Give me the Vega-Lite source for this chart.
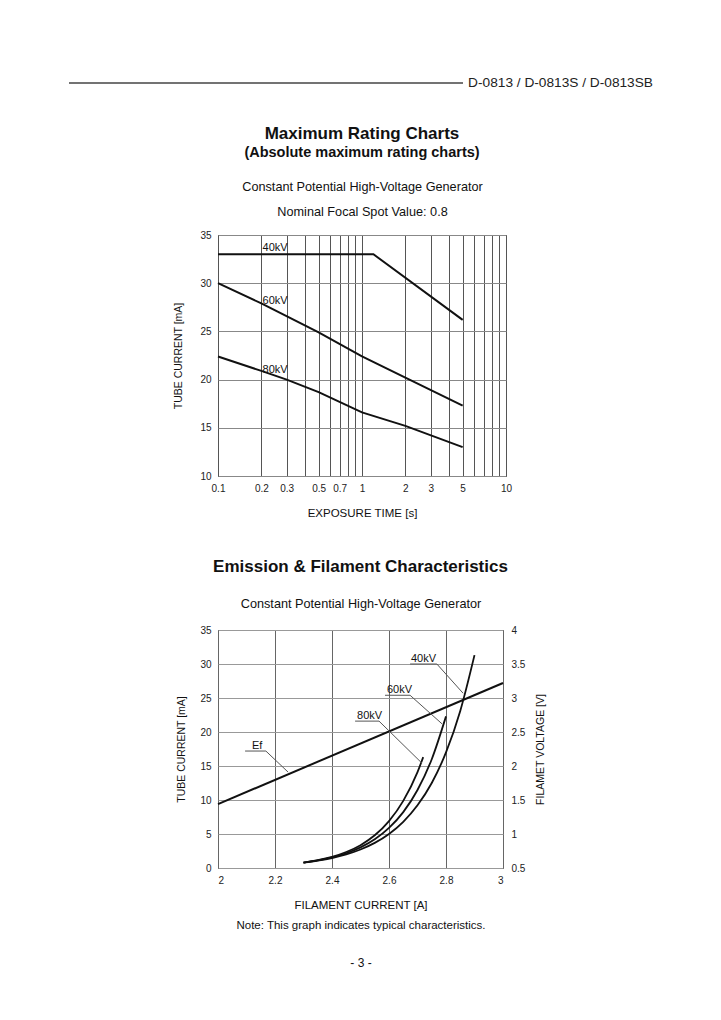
{
  "$schema": "https://vega.github.io/schema/vega-lite/v6.json",
  "background": "white",
  "padding": {"left": 68, "top": 76, "right": 10, "bottom": 10},
  "bounds": "flush",
  "spacing": 154,
  "config": {
    "font": "Liberation Sans",
    "view": {"stroke": "#111", "strokeWidth": 1},
    "axis": {"labelColor": "#222", "titleColor": "#111", "labelFontSize": 10, "titleFontWeight": "normal", "ticks": false, "domain": false, "gridOpacity": 1}
  },
  "vconcat": [
    {
      "width": 435,
      "height": 1,
      "view": {"stroke": null},
      "layer": [
        {
          "data": {"values": [{"x": 68, "x2": 462}]},
          "mark": {"type": "rule", "color": "#444", "strokeWidth": 1.3},
          "encoding": {
            "x": {"field": "x", "type": "quantitative", "scale": {"domain": [217, 652], "zero": false, "nice": false}, "axis": null},
            "x2": {"field": "x2"},
            "y": {"value": 3}
          }
        },
        {
          "data": {"values": [{"x": 652, "t": "D-0813 / D-0813S / D-0813SB"}]},
          "mark": {"type": "text", "align": "right", "baseline": "middle", "fontSize": 13.7, "color": "#222"},
          "encoding": {
            "x": {"field": "x", "type": "quantitative", "axis": null},
            "y": {"value": 3},
            "text": {"field": "t"}
          }
        }
      ]
    },
    {
      "width": 288,
      "height": 241,
      "title": {"text": "Maximum Rating Charts", "subtitle": "(Absolute maximum rating charts)", "fontSize": 17, "fontWeight": "bold", "subtitleFontSize": 14.5, "subtitleFontWeight": "bold", "subtitlePadding": 3, "offset": 20, "anchor": "middle", "color": "#111", "subtitleColor": "#111"},
      "resolve": {"axis": {"x": "independent"}},
      "layer": [
        {
          "data": {"values": [
            {"kv": "40kV", "t": 0.1, "ma": 33.0},
            {"kv": "40kV", "t": 1.2, "ma": 33.0},
            {"kv": "40kV", "t": 5, "ma": 26.2},
            {"kv": "60kV", "t": 0.1, "ma": 30.0},
            {"kv": "60kV", "t": 0.2, "ma": 27.9},
            {"kv": "60kV", "t": 0.5, "ma": 24.9},
            {"kv": "60kV", "t": 1, "ma": 22.4},
            {"kv": "60kV", "t": 2, "ma": 20.2},
            {"kv": "60kV", "t": 5, "ma": 17.3},
            {"kv": "80kV", "t": 0.1, "ma": 22.4},
            {"kv": "80kV", "t": 0.2, "ma": 20.9},
            {"kv": "80kV", "t": 0.3, "ma": 20.0},
            {"kv": "80kV", "t": 0.5, "ma": 18.7},
            {"kv": "80kV", "t": 1, "ma": 16.6},
            {"kv": "80kV", "t": 2, "ma": 15.2},
            {"kv": "80kV", "t": 5, "ma": 13.0}
          ]},
          "mark": {"type": "line", "color": "#111", "strokeWidth": 2},
          "encoding": {
            "x": {"field": "t", "type": "quantitative", "scale": {"type": "log", "domain": [0.1, 10], "nice": false},
              "axis": {"orient": "bottom", "values": [0.1, 0.2, 0.3, 0.4, 0.5, 0.6, 0.7, 0.8, 0.9, 1, 2, 3, 4, 5, 6, 7, 8, 9, 10],
                "labelExpr": "indexof([0.1, 0.2, 0.3, 0.5, 0.7, 1, 2, 3, 5, 10], datum.value) >= 0 ? format(datum.value, '~g') : ''",
                "labelOverlap": false, "labelFlush": false, "grid": true, "gridColor": "#555", "labelPadding": 7,
                "title": "EXPOSURE TIME  [s]", "titleFontSize": 11.5, "titlePadding": 14}},
            "y": {"field": "ma", "type": "quantitative", "scale": {"domain": [10, 35], "nice": false, "zero": false},
              "axis": {"values": [10, 15, 20, 25, 30, 35], "grid": true, "gridColor": "#888", "labelPadding": 7,
                "title": "TUBE CURRENT  [mA]", "titleFontSize": 10.5, "titlePadding": 16}},
            "detail": {"field": "kv"}
          }
        },
        {
          "data": {"values": [
            {"kv": "40kV", "t": 0.204, "ma": 33.3},
            {"kv": "60kV", "t": 0.204, "ma": 27.85},
            {"kv": "80kV", "t": 0.204, "ma": 20.7}
          ]},
          "mark": {"type": "text", "align": "left", "baseline": "alphabetic", "fontSize": 11, "color": "#111"},
          "encoding": {
            "x": {"field": "t", "type": "quantitative",
              "axis": {"orient": "top", "labels": false, "grid": false,
                "title": ["Constant Potential High-Voltage Generator", "Nominal Focal Spot Value: 0.8"],
                "titleFontSize": 12.7, "titleLineHeight": 25, "titlePadding": 17}},
            "y": {"field": "ma", "type": "quantitative"},
            "text": {"field": "kv"}
          }
        }
      ]
    },
    {
      "width": 285,
      "height": 238,
      "title": {"text": "Emission & Filament Characteristics", "fontSize": 17, "fontWeight": "bold", "offset": 21, "anchor": "middle", "color": "#111"},
      "resolve": {"scale": {"y": "independent"}, "axis": {"x": "independent", "y": "independent"}},
      "layer": [
        {
          "data": {"values": [
            {"kv": "40kV", "a": 2.30, "ma": 0.8},
            {"kv": "40kV", "a": 2.35, "ma": 1.09},
            {"kv": "40kV", "a": 2.40, "ma": 1.47},
            {"kv": "40kV", "a": 2.45, "ma": 2.0},
            {"kv": "40kV", "a": 2.50, "ma": 2.72},
            {"kv": "40kV", "a": 2.55, "ma": 3.69},
            {"kv": "40kV", "a": 2.60, "ma": 5.0},
            {"kv": "40kV", "a": 2.65, "ma": 6.79},
            {"kv": "40kV", "a": 2.70, "ma": 9.22},
            {"kv": "40kV", "a": 2.75, "ma": 12.5},
            {"kv": "40kV", "a": 2.80, "ma": 17.0},
            {"kv": "40kV", "a": 2.85, "ma": 23.1},
            {"kv": "40kV", "a": 2.90, "ma": 31.3},
            {"kv": "60kV", "a": 2.30, "ma": 0.8},
            {"kv": "60kV", "a": 2.35, "ma": 1.12},
            {"kv": "60kV", "a": 2.40, "ma": 1.56},
            {"kv": "60kV", "a": 2.45, "ma": 2.17},
            {"kv": "60kV", "a": 2.50, "ma": 3.03},
            {"kv": "60kV", "a": 2.55, "ma": 4.22},
            {"kv": "60kV", "a": 2.60, "ma": 5.89},
            {"kv": "60kV", "a": 2.65, "ma": 8.22},
            {"kv": "60kV", "a": 2.70, "ma": 11.47},
            {"kv": "60kV", "a": 2.75, "ma": 16.0},
            {"kv": "60kV", "a": 2.80, "ma": 22.3},
            {"kv": "80kV", "a": 2.30, "ma": 0.8},
            {"kv": "80kV", "a": 2.35, "ma": 1.15},
            {"kv": "80kV", "a": 2.40, "ma": 1.64},
            {"kv": "80kV", "a": 2.45, "ma": 2.35},
            {"kv": "80kV", "a": 2.50, "ma": 3.36},
            {"kv": "80kV", "a": 2.55, "ma": 4.81},
            {"kv": "80kV", "a": 2.60, "ma": 6.9},
            {"kv": "80kV", "a": 2.65, "ma": 9.87},
            {"kv": "80kV", "a": 2.70, "ma": 14.1},
            {"kv": "80kV", "a": 2.72, "ma": 16.3}
          ]},
          "mark": {"type": "line", "color": "#111", "strokeWidth": 1.8, "interpolate": "monotone"},
          "encoding": {
            "x": {"field": "a", "type": "quantitative", "scale": {"domain": [2, 3], "zero": false, "nice": false},
              "axis": {"orient": "bottom", "values": [2, 2.2, 2.4, 2.6, 2.8, 3], "format": "~g", "grid": true, "gridColor": "#666", "labelPadding": 7,
                "title": ["FILAMENT CURRENT  [A]", "Note: This graph indicates typical characteristics."],
                "titleFontSize": 11.5, "titleLineHeight": 20.5, "titlePadding": 14}},
            "y": {"field": "ma", "type": "quantitative", "scale": {"domain": [0, 35], "nice": false},
              "axis": {"orient": "left", "values": [0, 5, 10, 15, 20, 25, 30, 35], "grid": true, "gridColor": "#999", "labelPadding": 7,
                "title": "TUBE CURRENT  [mA]", "titleFontSize": 10.5, "titlePadding": 13}},
            "detail": {"field": "kv"}
          }
        },
        {
          "data": {"values": [
            {"a": 2, "v": 1.44},
            {"a": 3, "v": 3.22}
          ]},
          "mark": {"type": "line", "color": "#111", "strokeWidth": 2},
          "encoding": {
            "x": {"field": "a", "type": "quantitative",
              "axis": {"orient": "top", "labels": false, "grid": false,
                "title": "Constant Potential High-Voltage Generator", "titleFontSize": 12.7, "titlePadding": 20}},
            "y": {"field": "v", "type": "quantitative", "scale": {"domain": [0.5, 4], "zero": false, "nice": false},
              "axis": {"orient": "right", "values": [0.5, 1, 1.5, 2, 2.5, 3, 3.5, 4], "format": "~g", "grid": false, "labelPadding": 8,
                "title": "FILAMET VOLTAGE  [V]", "titleFontSize": 10.5, "titleAngle": 270, "titleBaseline": "top", "titlePadding": 11}}
          }
        },
        {
          "data": {"values": [
            {"id": "40kV", "a": 2.674, "ma": 30.0},
            {"id": "40kV", "a": 2.768, "ma": 30.0},
            {"id": "40kV", "a": 2.860, "ma": 25.7},
            {"id": "60kV", "a": 2.586, "ma": 25.4},
            {"id": "60kV", "a": 2.674, "ma": 25.4},
            {"id": "60kV", "a": 2.786, "ma": 21.2},
            {"id": "80kV", "a": 2.481, "ma": 21.6},
            {"id": "80kV", "a": 2.565, "ma": 21.6},
            {"id": "80kV", "a": 2.716, "ma": 15.4},
            {"id": "Ef", "a": 2.095, "ma": 17.2},
            {"id": "Ef", "a": 2.168, "ma": 17.2},
            {"id": "Ef", "a": 2.246, "ma": 14.1}
          ]},
          "mark": {"type": "line", "color": "#555", "strokeWidth": 1},
          "encoding": {
            "x": {"field": "a", "type": "quantitative",
              "axis": {"orient": "bottom", "labels": false, "grid": false, "title": "- 3 -", "titleFontSize": 12, "titlePadding": 89}},
            "y": {"field": "ma", "type": "quantitative", "scale": {"domain": [0, 35], "nice": false}, "axis": null},
            "detail": {"field": "id"}
          }
        },
        {
          "data": {"values": [
            {"t": "40kV", "a": 2.677, "ma": 30.35},
            {"t": "60kV", "a": 2.593, "ma": 25.75},
            {"t": "80kV", "a": 2.488, "ma": 21.95},
            {"t": "Ef", "a": 2.119, "ma": 17.55}
          ]},
          "mark": {"type": "text", "align": "left", "baseline": "alphabetic", "fontSize": 11, "color": "#111"},
          "encoding": {
            "x": {"field": "a", "type": "quantitative", "axis": null},
            "y": {"field": "ma", "type": "quantitative", "scale": {"domain": [0, 35], "nice": false}, "axis": null},
            "text": {"field": "t"}
          }
        }
      ]
    }
  ]
}
